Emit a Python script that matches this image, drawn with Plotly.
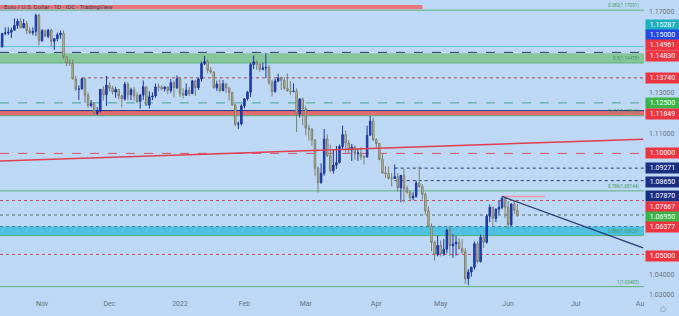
import pandas as pd
import plotly.graph_objects as go

# ---------------- data ----------------
dates = pd.bdate_range("2021-10-12", "2022-06-06")

open_ = [
    1.1553, 1.1528, 1.1594, 1.1596, 1.1600, 1.1610, 1.1633, 1.1654, 1.1622, 1.1643, 1.1608, 1.1597, 1.1604, 1.1683,
    1.1558, 1.1607, 1.1580, 1.1610, 1.1555, 1.1568, 1.1587, 1.1595, 1.1478, 1.1446, 1.1445, 1.1368, 1.1318, 1.1319, 1.1370, 1.1289, 1.1237, 1.1246, 1.1198, 1.1209, 1.1317, 1.1290,
    1.1338, 1.1322, 1.1304, 1.1316, 1.1285, 1.1269, 1.1343, 1.1291, 1.1315, 1.1286, 1.1257, 1.1289, 1.1330, 1.1239, 1.1280, 1.1284, 1.1329, 1.1328, 1.1320, 1.1328, 1.1312, 1.1350, 1.1326,
    1.1370, 1.1296, 1.1288, 1.1313, 1.1296, 1.1359, 1.1325, 1.1368, 1.1444, 1.1455, 1.1412, 1.1403, 1.1325, 1.1343, 1.1311, 1.1345, 1.1325, 1.1302, 1.1240, 1.1145, 1.1146,
    1.1235, 1.1270, 1.1303, 1.1440, 1.1453, 1.1441, 1.1416, 1.1423, 1.1426, 1.1350, 1.1306, 1.1358, 1.1374, 1.1362, 1.1322, 1.1309, 1.1307, 1.1308, 1.1195, 1.1269,
    1.1220, 1.1125, 1.1120, 1.1067, 1.0927, 1.0856, 1.0902, 1.1071, 1.0988, 1.0914, 1.0942, 1.0955, 1.1034, 1.1093, 1.1051, 1.1017, 1.1032, 1.0999, 1.1002, 1.0983, 1.0982, 1.1090, 1.1160,
    1.1067, 1.1049, 1.0970, 1.0903, 1.0900, 1.0877, 1.0876, 1.0885, 1.0830, 1.0891, 1.0827, 1.0808, 1.0780, 1.0788, 1.0853, 1.0836, 1.0797, 1.0715, 1.0640, 1.0559, 1.0499,
    1.0545, 1.0502, 1.0526, 1.0621, 1.0542, 1.0552, 1.0561, 1.0529, 1.0513, 1.0380, 1.0413, 1.0436, 1.0553, 1.0465, 1.0585, 1.0560, 1.0689, 1.0733, 1.0678, 1.0724, 1.0733, 1.0777,
    1.0733, 1.0647, 1.0750, 1.0718,
]
high = [
    1.1572, 1.1595, 1.1624, 1.1624, 1.1622, 1.1668, 1.1667, 1.1669, 1.1665, 1.1655, 1.1624, 1.1624, 1.1692, 1.1692,
    1.1616, 1.1614, 1.1616, 1.1617, 1.1570, 1.1598, 1.1608, 1.1609, 1.1482, 1.1464, 1.1465, 1.1385, 1.1337, 1.1374, 1.1372, 1.1302, 1.1264, 1.1253, 1.1230, 1.1319, 1.1333, 1.1383,
    1.1352, 1.1335, 1.1330, 1.1320, 1.1290, 1.1355, 1.1353, 1.1325, 1.1329, 1.1303, 1.1294, 1.1361, 1.1332, 1.1307, 1.1302, 1.1346, 1.1346, 1.1337, 1.1333, 1.1333, 1.1368, 1.1360, 1.1386,
    1.1376, 1.1322, 1.1346, 1.1330, 1.1364, 1.1364, 1.1374, 1.1454, 1.1482, 1.1464, 1.1427, 1.1405, 1.1360, 1.1366, 1.1363, 1.1346, 1.1330, 1.1305, 1.1245, 1.1158, 1.1243,
    1.1274, 1.1309, 1.1448, 1.1484, 1.1461, 1.1445, 1.1449, 1.1495, 1.1438, 1.1363, 1.1368, 1.1395, 1.1380, 1.1377, 1.1395, 1.1358, 1.1347, 1.1322, 1.1274, 1.1276,
    1.1233, 1.1141, 1.1126, 1.1070, 1.0935, 1.0951, 1.1121, 1.1095, 1.1044, 1.1019, 1.1037, 1.1044, 1.1137, 1.1113, 1.1066, 1.1047, 1.1040, 1.1024, 1.1031, 1.0990, 1.1137, 1.1185, 1.1176,
    1.1076, 1.1053, 1.0998, 1.0937, 1.0935, 1.0903, 1.0945, 1.0903, 1.0891, 1.0924, 1.0839, 1.0817, 1.0808, 1.0865, 1.0936, 1.0848, 1.0806, 1.0737, 1.0653, 1.0568, 1.0593,
    1.0569, 1.0576, 1.0627, 1.0642, 1.0599, 1.0592, 1.0580, 1.0577, 1.0531, 1.0427, 1.0440, 1.0564, 1.0564, 1.0598, 1.0597, 1.0697, 1.0748, 1.0737, 1.0728, 1.0765, 1.0787, 1.0781,
    1.0764, 1.0752, 1.0764, 1.0750,
]
low = [
    1.1524, 1.1524, 1.1585, 1.1586, 1.1571, 1.1609, 1.1617, 1.1618, 1.1620, 1.1590, 1.1588, 1.1585, 1.1581, 1.1535,
    1.1553, 1.1577, 1.1570, 1.1529, 1.1513, 1.1555, 1.1567, 1.1467, 1.1432, 1.1433, 1.1366, 1.1309, 1.1264, 1.1316, 1.1249, 1.1226, 1.1227, 1.1186, 1.1190, 1.1203, 1.1262, 1.1235,
    1.1307, 1.1292, 1.1276, 1.1267, 1.1228, 1.1261, 1.1262, 1.1264, 1.1262, 1.1249, 1.1222, 1.1265, 1.1236, 1.1222, 1.1264, 1.1276, 1.1307, 1.1312, 1.1307, 1.1292, 1.1300, 1.1277, 1.1318,
    1.1279, 1.1272, 1.1284, 1.1285, 1.1294, 1.1285, 1.1314, 1.1355, 1.1437, 1.1397, 1.1394, 1.1322, 1.1310, 1.1302, 1.1307, 1.1299, 1.1262, 1.1235, 1.1135, 1.1121, 1.1138,
    1.1222, 1.1262, 1.1279, 1.1418, 1.1413, 1.1404, 1.1411, 1.1373, 1.1339, 1.1281, 1.1301, 1.1352, 1.1314, 1.1316, 1.1307, 1.1288, 1.1302, 1.1106, 1.1177, 1.1140,
    1.1089, 1.1063, 1.1039, 1.0889, 1.0806, 1.0849, 1.0890, 1.0982, 1.0906, 1.0900, 1.0923, 1.0950, 1.1020, 1.1004, 1.0999, 1.0962, 1.0969, 1.0963, 1.0967, 1.0945, 1.0980, 1.1088, 1.1063,
    1.1028, 1.0966, 1.0899, 1.0878, 1.0870, 1.0837, 1.0875, 1.0810, 1.0758, 1.0757, 1.0800, 1.0764, 1.0768, 1.0780, 1.0830, 1.0772, 1.0697, 1.0634, 1.0515, 1.0470, 1.0490,
    1.0490, 1.0493, 1.0505, 1.0493, 1.0483, 1.0494, 1.0524, 1.0504, 1.0354, 1.0349, 1.0390, 1.0425, 1.0456, 1.0460, 1.0532, 1.0554, 1.0660, 1.0642, 1.0660, 1.0698, 1.0723, 1.0679,
    1.0627, 1.0640, 1.0701, 1.0686,
]
close = [
    1.1528, 1.1594, 1.1596, 1.1600, 1.1610, 1.1633, 1.1654, 1.1622, 1.1643, 1.1608, 1.1597, 1.1604, 1.1683, 1.1558,
    1.1607, 1.1580, 1.1610, 1.1555, 1.1568, 1.1587, 1.1595, 1.1478, 1.1446, 1.1445, 1.1368, 1.1318, 1.1319, 1.1370, 1.1289, 1.1237, 1.1246, 1.1198, 1.1209, 1.1317, 1.1290, 1.1338,
    1.1322, 1.1304, 1.1316, 1.1285, 1.1269, 1.1343, 1.1291, 1.1315, 1.1286, 1.1257, 1.1289, 1.1330, 1.1239, 1.1280, 1.1284, 1.1329, 1.1328, 1.1320, 1.1328, 1.1312, 1.1350, 1.1326, 1.1370,
    1.1296, 1.1288, 1.1313, 1.1296, 1.1359, 1.1325, 1.1368, 1.1444, 1.1455, 1.1412, 1.1403, 1.1325, 1.1343, 1.1311, 1.1345, 1.1325, 1.1302, 1.1240, 1.1145, 1.1146, 1.1235,
    1.1270, 1.1303, 1.1440, 1.1453, 1.1441, 1.1416, 1.1423, 1.1426, 1.1350, 1.1306, 1.1358, 1.1374, 1.1362, 1.1322, 1.1309, 1.1307, 1.1308, 1.1195, 1.1269, 1.1220,
    1.1125, 1.1120, 1.1067, 1.0927, 1.0856, 1.0902, 1.1071, 1.0988, 1.0914, 1.0942, 1.0955, 1.1034, 1.1093, 1.1051, 1.1017, 1.1032, 1.0999, 1.1002, 1.0983, 1.0982, 1.1090, 1.1160, 1.1067,
    1.1049, 1.0970, 1.0903, 1.0900, 1.0877, 1.0876, 1.0885, 1.0830, 1.0891, 1.0827, 1.0808, 1.0780, 1.0788, 1.0853, 1.0836, 1.0797, 1.0715, 1.0640, 1.0559, 1.0499, 1.0545,
    1.0502, 1.0526, 1.0621, 1.0542, 1.0552, 1.0561, 1.0529, 1.0513, 1.0380, 1.0413, 1.0436, 1.0553, 1.0465, 1.0585, 1.0560, 1.0689, 1.0733, 1.0678, 1.0724, 1.0733, 1.0777, 1.0733,
    1.0647, 1.0750, 1.0718, 1.0692,
]

month_ticks = ["2021-11-01", "2021-12-01", "2022-01-03", "2022-02-01", "2022-03-01",
               "2022-04-01", "2022-05-02", "2022-06-01", "2022-07-01", "2022-08-01"]
month_labels = ["Nov", "Dec", "2022", "Feb", "Mar", "Apr", "May", "Jun", "Jul", "Au"]

# price-scale ticks that are not hidden behind the coloured level labels
price_ticks = [1.03, 1.04, 1.11, 1.13, 1.17]

fib_ratios = ["0.382", "0.5", "0.618", "0.786", "0.886", "1"]
fib_prices = [1.17091, 1.14478, 1.11865, 1.08144, 1.05929, 1.03405]

# zones (low, high)
top_zone = [1.1713, 1.1735]
top_zone_end = "2022-04-22"
green_zone = [1.14478, 1.14961]
red_zone = [1.11849, 1.12120]
cyan_zone = [1.05929, 1.06377]

# horizontal levels: price, start date (None = whole chart)
level_prices = [1.15287, 1.15000, 1.13740, 1.12500, 1.12120, 1.10000, 1.09271, 1.08650, 1.07667, 1.06950, 1.05000, 1.06377]
level_starts = [None, None, "2021-11-18", None, None, None, "2022-04-11", "2022-04-11", None, None, None, None]
level_colors = ["#5cc6d0", "#2b3a67", "#a04848", "#3fa890", "#25347a", "#e0505a", "#2a3a7a", "#2a3a7a", "#d04a55", "#4d6b5f", "#d04a55", "#3d7f99"]
level_dash = ["solid", "dash", "dot", "dash", "solid", "dash", "dot", "dot", "dot", "dot", "dot", "dot"]

ray_dates = ["2022-05-30", "2022-06-17"]
ray_prices = [1.07870, 1.07870]

red_trend_dates = ["2021-10-12", "2022-08-02"]
red_trend_prices = [1.0962, 1.1070]
navy_trend_dates = ["2022-05-30", "2022-08-02"]
navy_trend_prices = [1.0787, 1.0532]

label_prices = [1.15287, 1.15000, 1.14961, 1.14830, 1.13740, 1.12500, 1.11849, 1.10000,
                1.09271, 1.08650, 1.07870, 1.07667, 1.06950, 1.06377, 1.05000]
label_colors = ["#1fb0c0", "#2348e6", "#f0343f", "#f0343f", "#f0343f", "#3bb54a", "#f0343f", "#f0343f",
                "#1b2f82", "#1b2f82", "#1b2f82", "#f0343f", "#3bb54a", "#f0343f", "#f0343f"]
label_shift = [21.6, 17.4, 8.2, 0, 0, 0, 1.6, 0, 0, -1.3, 0, -6.5, -2, 0, -1.6]

# ---------------- figure ----------------
BG = "#bed9f5"
FONT = "Roboto"

fig = go.Figure()
fig.add_trace(go.Candlestick(
    x=dates, open=open_, high=high, low=low, close=close,
    increasing=dict(line=dict(color="#1b36a6", width=1), fillcolor="#1f3fc0"),
    decreasing=dict(line=dict(color="#80806c", width=1), fillcolor="#cec893"),
    whiskerwidth=0, showlegend=False, hoverinfo="skip",
))

shapes = []
shapes.append(dict(type="rect", xref="x", yref="y", x0=dates[0] - pd.Timedelta(days=5), x1=top_zone_end,
                   y0=top_zone[0], y1=top_zone[1], fillcolor="#e8747c", line=dict(width=0), layer="below"))
shapes.append(dict(type="rect", xref="paper", yref="y", x0=0, x1=1, y0=green_zone[0], y1=green_zone[1],
                   fillcolor="#86c79e", line=dict(width=0), layer="below"))
shapes.append(dict(type="rect", xref="paper", yref="y", x0=0, x1=1, y0=red_zone[0], y1=red_zone[1],
                   fillcolor="#e46c72", line=dict(width=0), layer="below"))
shapes.append(dict(type="rect", xref="paper", yref="y", x0=0, x1=1, y0=cyan_zone[0], y1=cyan_zone[1],
                   fillcolor="#4fc2e2", line=dict(width=0), layer="below"))
for p in fib_prices:
    shapes.append(dict(type="line", xref="paper", yref="y", x0=0, x1=1, y0=p, y1=p,
                       line=dict(color="#5db27c", width=1), layer="below"))
for p, s, c, d in zip(level_prices, level_starts, level_colors, level_dash):
    if s is None:
        shapes.append(dict(type="line", xref="paper", yref="y", x0=0, x1=1, y0=p, y1=p,
                           line=dict(color=c, width=1, dash=d), layer="below"))
    else:
        shapes.append(dict(type="line", xref="x", yref="y", x0=s, x1="2022-08-05", y0=p, y1=p,
                           line=dict(color=c, width=1, dash=d), layer="below"))
shapes.append(dict(type="line", xref="x", yref="y", x0=ray_dates[0], x1=ray_dates[1],
                   y0=ray_prices[0], y1=ray_prices[1], line=dict(color="#e99aa6", width=1.5), layer="below"))
fig.update_layout(shapes=shapes)

fig.add_trace(go.Scatter(x=red_trend_dates, y=red_trend_prices, mode="lines",
                         line=dict(color="#e0404f", width=1.5), showlegend=False, hoverinfo="skip"))
fig.add_trace(go.Scatter(x=navy_trend_dates, y=navy_trend_prices, mode="lines",
                         line=dict(color="#2b3a7a", width=1.3), showlegend=False, hoverinfo="skip"))

annotations = []
annotations.append(dict(xref="paper", yref="paper", x=0.003, y=1, xanchor="left", yanchor="top", yshift=-1,
                        text="Euro / U.S. Dollar · 1D · IDC · TradingView", showarrow=False,
                        font=dict(family=FONT, size=6, color="#3d4452")))
for r, p in zip(fib_ratios, fib_prices):
    annotations.append(dict(xref="paper", yref="y", x=0.996, y=p, xanchor="right", yanchor="bottom",
                            text=f"{r}({p:.5f})", showarrow=False, yshift=-1,
                            font=dict(family=FONT, size=4.5, color="#3e9a5c")))
for p, c, sh in zip(label_prices, label_colors, label_shift):
    annotations.append(dict(xref="paper", yref="y", x=1, y=p, xanchor="left", yanchor="middle",
                            xshift=1, yshift=sh, text=f"{p:.5f}", showarrow=False, bgcolor=c,
                            width=32, height=9, borderpad=0.5,
                            font=dict(family=FONT, size=7, color="white")))
annotations.append(dict(xref="paper", yref="paper", x=1, y=0, xanchor="left", yanchor="top",
                        xshift=14, yshift=-5, text="○", showarrow=False,
                        font=dict(family="DejaVu Sans", size=7, color="#6b7380")))
fig.update_layout(annotations=annotations)

fig.update_layout(
    width=679, height=316,
    margin=dict(l=0, r=35, t=0, b=18),
    paper_bgcolor=BG, plot_bgcolor=BG,
    font=dict(family=FONT, color="#6b7380"),
    xaxis=dict(
        type="date",
        range=["2021-10-12 07:00", "2022-08-02 07:00"],
        rangebreaks=[dict(bounds=["sat", "mon"])],
        tickvals=month_ticks, ticktext=month_labels,
        showgrid=False, zeroline=False, showline=False, ticks="",
        tickfont=dict(family=FONT, size=7, color="#6b7380"),
        rangeslider=dict(visible=False),
    ),
    yaxis=dict(
        side="right",
        range=[1.028416, 1.175941],
        tickvals=price_ticks, ticktext=[f"{v:.5f}" for v in price_ticks],
        showgrid=False, zeroline=False, showline=False, ticks="",
        ticklabelstandoff=4,
        tickfont=dict(family=FONT, size=7, color="#6b7380"),
    ),
)

fig.write_html("out.html")
